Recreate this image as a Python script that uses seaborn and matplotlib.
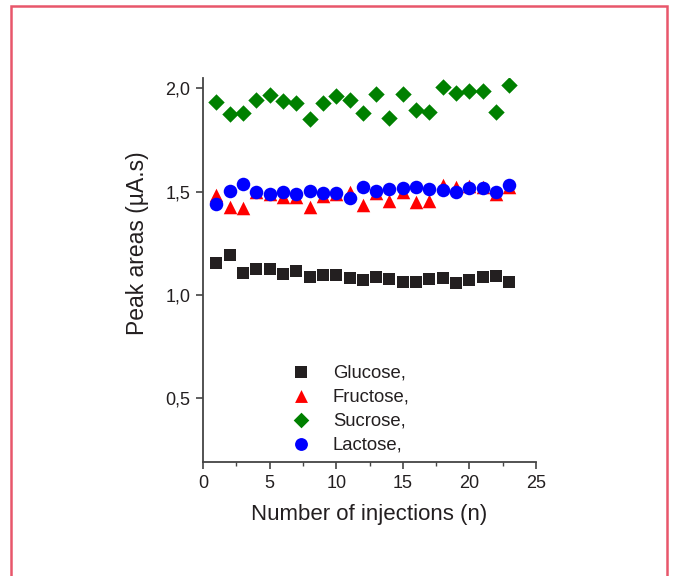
import numpy as np
import pandas as pd
import matplotlib
matplotlib.use("Agg")
import matplotlib.pyplot as plt
from matplotlib.patches import Rectangle
from matplotlib.ticker import MultipleLocator, FuncFormatter
import seaborn as sns

injections = list(range(1, 24))
glucose = [1.152, 1.195, 1.106, 1.127, 1.123, 1.100, 1.115, 1.084, 1.095, 1.098, 1.079, 1.071,
           1.087, 1.075, 1.063, 1.060, 1.076, 1.082, 1.055, 1.071, 1.087, 1.089, 1.061]
fructose = [1.482, 1.426, 1.418, 1.500, 1.490, 1.475, 1.472, 1.426, 1.478, 1.490, 1.500, 1.434,
            1.492, 1.452, 1.500, 1.450, 1.452, 1.531, 1.520, 1.525, 1.520, 1.490, 1.520]
sucrose = [1.934, 1.874, 1.880, 1.945, 1.970, 1.939, 1.929, 1.853, 1.931, 1.961, 1.942, 1.880,
           1.971, 1.856, 1.974, 1.897, 1.885, 2.006, 1.979, 1.987, 1.987, 1.885, 2.015]
lactose = [1.442, 1.503, 1.535, 1.497, 1.486, 1.498, 1.487, 1.503, 1.491, 1.494, 1.470, 1.523,
           1.502, 1.513, 1.518, 1.520, 1.513, 1.507, 1.498, 1.515, 1.515, 1.498, 1.534]
series_names = ["Glucose,", "Fructose,", "Sucrose,", "Lactose,"]
series_values = [glucose, fructose, sucrose, lactose]
x_ticks = [0, 5, 10, 15, 20, 25]
y_ticks = [0.5, 1.0, 1.5, 2.0]

colors = ["#231f20", "#ff0000", "#008000", "#0000ff"]
markers = ["s", "^", "D", "o"]
sizes = [80, 95, 70, 95]

sns.set_theme(style="ticks")
plt.rcParams["font.family"] = ["Liberation Sans", "DejaVu Sans"]

fig = plt.figure(figsize=(6.73, 5.76), dpi=100)
ax = fig.add_axes([203/673, 1 - 462/576, (536-203)/673, (462-78)/576])

for name, vals, c, m, s in zip(series_names, series_values, colors, markers, sizes):
    df = pd.DataFrame({"n": injections, "area": vals})
    sns.scatterplot(data=df, x="n", y="area", ax=ax, color=c, marker=m, s=s,
                    linewidth=0, label=name)

ax.set_xlim(0, 25)
ax.set_ylim(0.19, 2.05)
ax.set_xticks(x_ticks)
ax.set_yticks(y_ticks)
ax.xaxis.set_minor_locator(MultipleLocator(2.5))
ax.yaxis.set_major_formatter(FuncFormatter(lambda v, p: f"{v:.1f}".replace(".", ",")))
ax.set_xlabel("Number of injections (n)", fontsize=16, color="#231f20", labelpad=9)
ax.set_ylabel("Peak areas (\u00b5A.s)", fontsize=16.5, color="#231f20")
ax.yaxis.set_label_coords(-0.162, 0.57)
ax.tick_params(axis="both", which="major", labelsize=13, length=5, width=1.2,
               color="#444444", labelcolor="#231f20", direction="out", pad=4)
ax.tick_params(axis="x", which="minor", length=3, width=1.0, color="#444444")
sns.despine(ax=ax)
for sp in ["left", "bottom"]:
    ax.spines[sp].set_color("#444444")
    ax.spines[sp].set_linewidth(1.3)

leg = ax.legend(loc="upper left", bbox_to_anchor=(0.24, 0.255), frameon=False,
                fontsize=13.3, handletextpad=0.7, labelspacing=0.38, markerscale=0.95,
                borderaxespad=0, borderpad=0)
for t in leg.get_texts():
    t.set_color("#231f20")

fig.patches.append(Rectangle((11/673, -0.05), (667-11)/673, 1.05 - 6/576,
                             transform=fig.transFigure, fill=False,
                             edgecolor="#e8566b", linewidth=1.8))

fig.savefig("out.png", dpi=100)
